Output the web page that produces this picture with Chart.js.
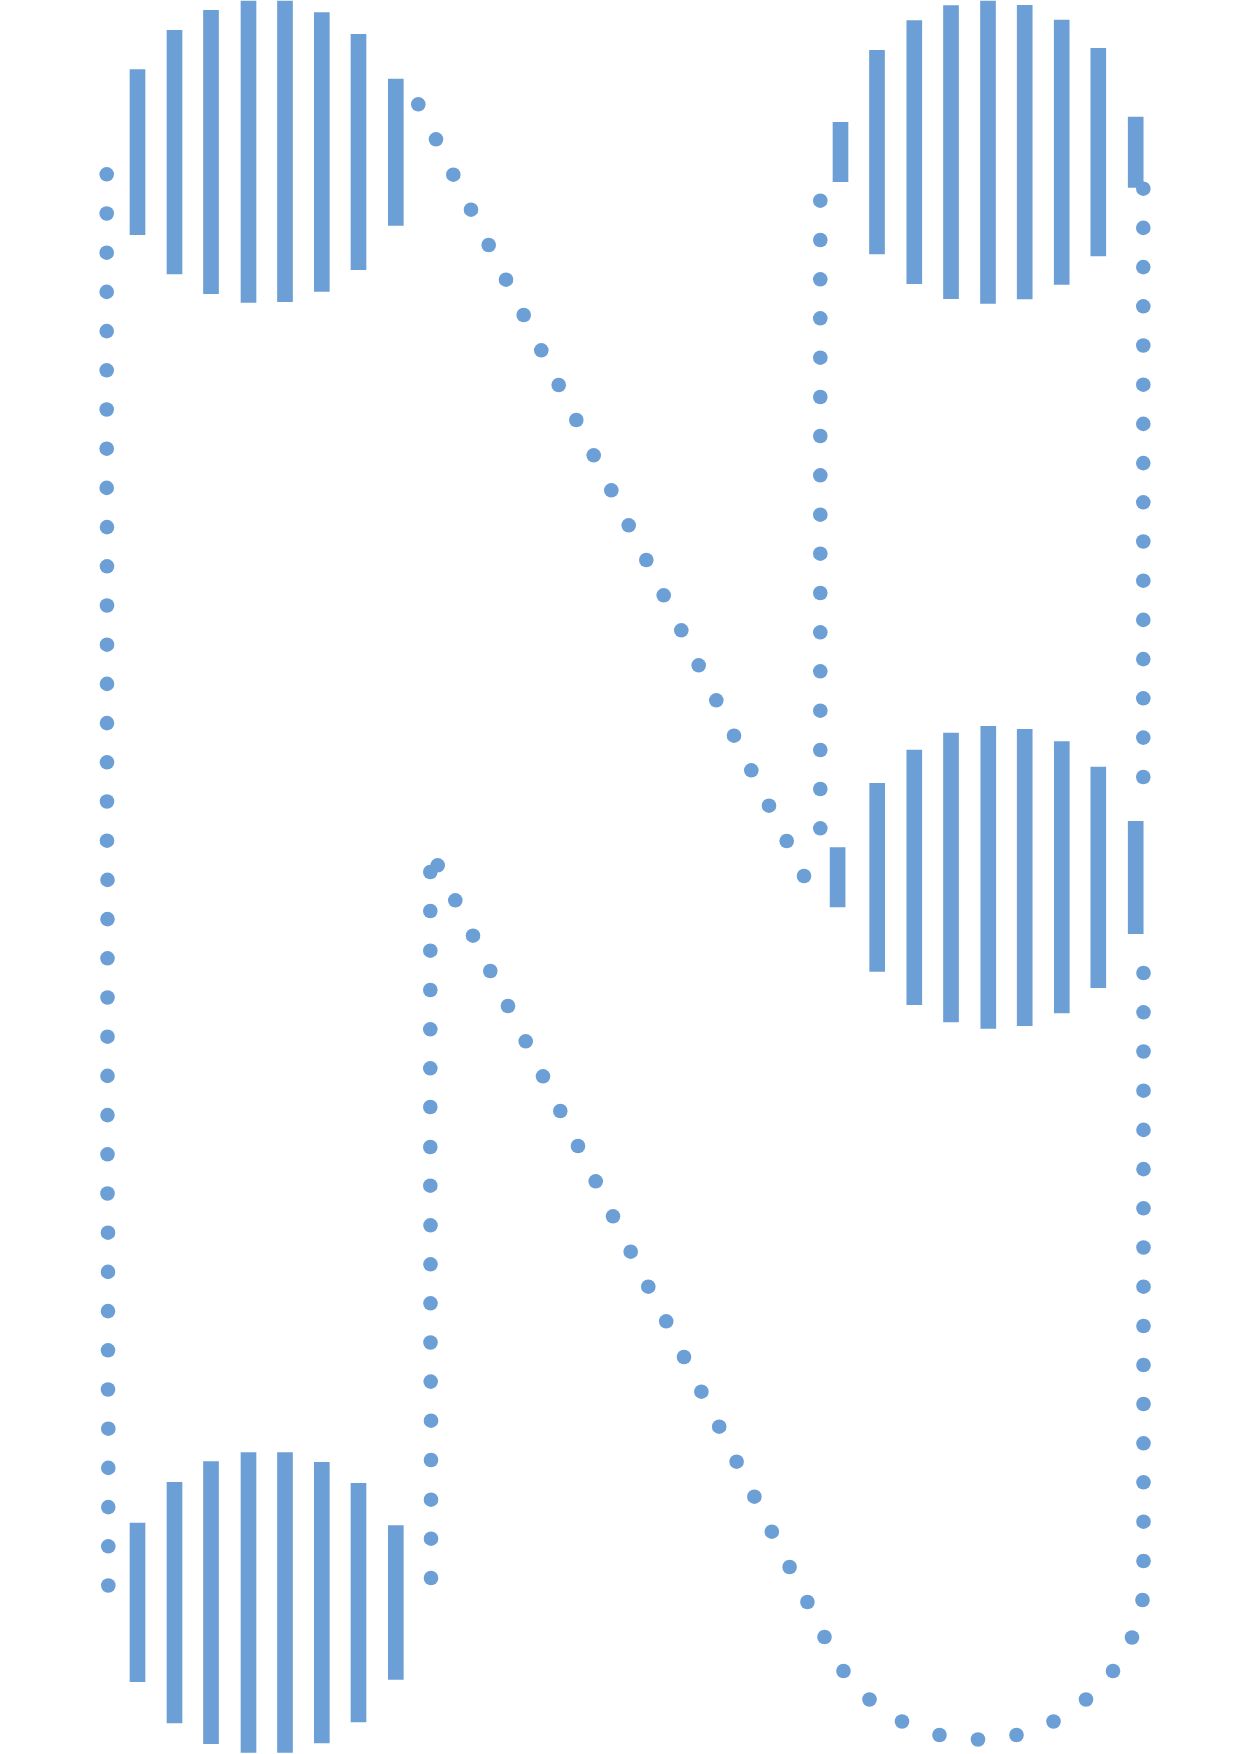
<!DOCTYPE html>
<html>
<head>
<meta charset="utf-8">
<script src="https://cdn.jsdelivr.net/npm/chart.js@4/dist/chart.umd.min.js"></script>
<style>
  html, body { margin: 0; padding: 0; background: #ffffff; }
  #wrap { width: 1250px; height: 1754px; position: relative; }
</style>
</head>
<body>
<div id="wrap"><canvas id="Chart"></canvas></div>
<script>
// bar groups: x position of each bar, and [from, to] range on the y scale
var topLeftX = [13.75, 17.45, 21.1, 24.85, 28.5, 32.18, 35.85, 39.58];
var topLeftRange = [[6.97, 23.47], [3.03, 27.4], [1.03, 29.37], [0.1, 30.23], [0.1, 30.17], [1.27, 29.13], [3.43, 26.97], [7.9, 22.53]];

var bottomLeftX = [13.75, 17.45, 21.1, 24.85, 28.5, 32.18, 35.85, 39.58];
var bottomLeftRange = [[152.3, 168.17], [148.23, 172.3], [146.17, 174.37], [145.27, 175.23], [145.27, 175.23], [146.23, 174.3], [148.33, 172.2], [152.57, 167.93]];

var topRightX = [84.05, 87.7, 91.43, 95.1, 98.8, 102.47, 106.17, 109.83, 113.57];
var topRightRange = [[12.23, 18.17], [5.03, 25.4], [2.07, 28.37], [0.57, 29.87], [0.1, 30.33], [0.53, 29.9], [2.0, 28.43], [4.83, 25.6], [11.7, 18.73]];

var midRightX = [83.76, 87.72, 91.43, 95.1, 98.83, 102.47, 106.18, 109.83, 113.57];
var midRightRange = [[84.77, 90.7], [78.33, 97.13], [75.0, 100.47], [73.3, 102.2], [72.63, 102.83], [72.93, 102.57], [74.17, 101.3], [76.7, 98.77], [82.13, 93.37]];

// dotted strokes
var leftStemX = [10.67, 10.67, 10.67, 10.67, 10.67, 10.67, 10.67, 10.67, 10.67, 10.7, 10.7, 10.7, 10.7, 10.7, 10.7, 10.7, 10.7, 10.7, 10.75,
  10.75, 10.75, 10.75, 10.75, 10.75, 10.75, 10.75, 10.75, 10.8, 10.8, 10.8, 10.8, 10.8, 10.83, 10.83, 10.83, 10.83, 10.83];
var leftStemY = [17.43, 21.35, 25.27, 29.19, 33.11, 37.03, 40.95, 44.87, 48.79, 52.71, 56.63, 60.55, 64.47, 68.39, 72.31, 76.23, 80.15, 84.07, 87.99,
  91.91, 95.83, 99.75, 103.67, 107.59, 111.51, 115.43, 119.35, 123.27, 127.19, 131.11, 135.03, 138.95, 142.87, 146.79, 150.71, 154.63, 158.55];

var topDiagX = [41.83, 43.6, 45.33, 47.1, 48.87, 50.6, 52.37, 54.13, 55.87, 57.63, 59.37, 61.13, 62.87, 64.63, 66.37, 68.13, 69.87, 71.63, 73.4, 75.13, 76.9, 78.67, 80.4];
var topDiagY = [10.43, 13.93, 17.47, 20.97, 24.5, 27.97, 31.5, 35.03, 38.5, 42.0, 45.53, 49.03, 52.53, 56.0, 59.53, 63.03, 66.53, 70.03, 73.57, 77.03, 80.57, 84.1, 87.6];

var midStemX = [82.03, 82.03, 82.03, 82.03, 82.03, 82.03, 82.03, 82.03, 82.03, 82.03, 82.03, 82.03, 82.03, 82.03, 82.03, 82.03, 82.03];
var midStemY = [20.07, 24.0, 27.93, 31.83, 35.77, 39.7, 43.6, 47.53, 51.47, 55.37, 59.3, 63.23, 67.13, 71.07, 75.0, 78.9, 82.83];

var rightTopX = [114.33, 114.33, 114.33, 114.33, 114.33, 114.33, 114.33, 114.33, 114.33, 114.33, 114.33, 114.33, 114.33, 114.33, 114.33, 114.33];
var rightTopY = [18.87, 22.79, 26.71, 30.63, 34.55, 38.47, 42.39, 46.31, 50.23, 54.15, 58.07, 61.99, 65.91, 69.83, 73.76, 77.7];

var rightLowX = [114.35, 114.35, 114.35, 114.35, 114.35, 114.35, 114.35, 114.35, 114.35, 114.35, 114.35, 114.35, 114.35, 114.35, 114.35, 114.35, 114.25];
var rightLowY = [97.3, 101.23, 105.15, 109.07, 112.99, 116.91, 120.83, 124.75, 128.67, 132.6, 136.5, 140.4, 144.33, 148.23, 152.17, 156.1, 160.0];

var bowlX = [113.2, 111.3, 108.6, 105.35, 101.65, 97.8, 93.95, 90.2, 86.95, 84.35, 82.45];
var bowlY = [163.75, 167.1, 169.95, 172.15, 173.5, 173.95, 173.5, 172.15, 169.95, 167.1, 163.7];

var lowDiagX = [43.77, 45.53, 47.3, 49.03, 50.8, 52.57, 54.3, 56.03, 57.8, 59.57, 61.3, 63.07, 64.83, 66.62, 68.4, 70.14, 71.92, 73.66, 75.44, 77.18, 78.96, 80.74];
var lowDiagY = [86.53, 90.03, 93.57, 97.1, 100.6, 104.13, 107.63, 111.1, 114.6, 118.13, 121.63, 125.17, 128.67, 132.13, 135.7, 139.17, 142.67, 146.17, 149.67, 153.17, 156.7, 160.2];

var midLeftX = [43.03, 43.03, 43.03, 43.03, 43.03, 43.03, 43.03, 43.03, 43.03, 43.05, 43.05, 43.05, 43.05, 43.07, 43.1, 43.1, 43.1, 43.1, 43.1];
var midLeftY = [87.2, 91.1, 95.07, 99.0, 102.93, 106.83, 110.7, 114.7, 118.57, 122.53, 126.43, 130.33, 134.25, 138.16, 142.07, 146.0, 149.97, 153.87, 157.8];

var blue = '#6b9fd5';

function bars(xs, ranges) {
  return xs.map(function(x, i) { return {x: x, y: ranges[i]}; });
}
function dots(xs, ys) {
  return xs.map(function(x, i) { return {x: x, y: ys[i]}; });
}

function barSet(label, xs, ranges) {
  return {
    type: 'bar',
    label: label,
    data: bars(xs, ranges),
    backgroundColor: blue,
    borderWidth: 0,
    barThickness: 15,
    grouped: false,
    order: 2
  };
}
function dotSet(label, xs, ys) {
  return {
    type: 'scatter',
    label: label,
    data: dots(xs, ys),
    backgroundColor: blue,
    borderWidth: 0,
    pointRadius: 7.3,
    pointHoverRadius: 7.3,
    order: 1
  };
}

var ctx = document.getElementById('Chart').getContext('2d');
var chart = new Chart(ctx, {
  type: 'bar',
  data: {
    datasets: [
      dotSet('lowDiag', lowDiagX, lowDiagY),
      dotSet('midLeft', midLeftX, midLeftY),
      dotSet('leftStem', leftStemX, leftStemY),
      dotSet('topDiag', topDiagX, topDiagY),
      dotSet('midStem', midStemX, midStemY),
      dotSet('rightTop', rightTopX, rightTopY),
      dotSet('rightLow', rightLowX, rightLowY),
      dotSet('bowl', bowlX, bowlY),
      barSet('topLeft', topLeftX, topLeftRange),
      barSet('bottomLeft', bottomLeftX, bottomLeftRange),
      barSet('topRight', topRightX, topRightRange),
      barSet('midRight', midRightX, midRightRange)
    ]
  },
  options: {
    responsive: true,
    maintainAspectRatio: false,
    devicePixelRatio: 1,
    animation: false,
    layout: { padding: 0, autoPadding: false },
    plugins: {
      legend: { display: false },
      tooltip: { enabled: false }
    },
    scales: {
      x: {
        type: 'linear',
        min: 0,
        max: 125,
        offset: false,
        display: false
      },
      y: {
        type: 'linear',
        min: 0,
        max: 175.4,
        reverse: true,
        display: false
      }
    }
  }
});
</script>
</body>
</html>
